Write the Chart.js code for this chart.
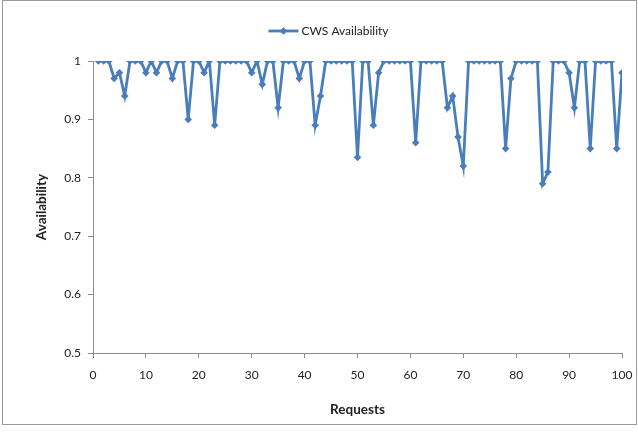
<!DOCTYPE html>
<html>
<head>
<meta charset="utf-8">
<script src="https://cdn.jsdelivr.net/npm/chart.js@4"></script>
<style>
  html, body { margin: 0; padding: 0; background: #ffffff; }
  #wrap { width: 638px; height: 432px; position: relative; }
</style>
</head>
<body>
<div id="wrap"><canvas id="chart" width="638" height="432"></canvas></div>
<script>
// Request number for each measurement
const requests = [
  1, 2, 3, 4, 5, 6, 7, 8, 9, 10,
  11, 12, 13, 14, 15, 16, 17, 18, 19, 20,
  21, 22, 23, 24, 25, 26, 27, 28, 29, 30,
  31, 32, 33, 34, 35, 36, 37, 38, 39, 40,
  41, 42, 43, 44, 45, 46, 47, 48, 49, 50,
  51, 52, 53, 54, 55, 56, 57, 58, 59, 60,
  61, 62, 63, 64, 65, 66, 67, 68, 69, 70,
  71, 72, 73, 74, 75, 76, 77, 78, 79, 80,
  81, 82, 83, 84, 85, 86, 87, 88, 89, 90,
  91, 92, 93, 94, 95, 96, 97, 98, 99, 100
];

// Measured CWS availability per request
const availability = [
  1, 1, 1, 0.97, 0.98, 0.94, 1, 1, 1, 0.98,
  1, 0.98, 1, 1, 0.97, 1, 1, 0.90, 1, 1,
  0.98, 1, 0.89, 1, 1, 1, 1, 1, 1, 0.98,
  1, 0.96, 1, 1, 0.92, 1, 1, 1, 0.97, 1,
  1, 0.89, 0.94, 1, 1, 1, 1, 1, 1, 0.835,
  1, 1, 0.89, 0.98, 1, 1, 1, 1, 1, 1,
  0.86, 1, 1, 1, 1, 1, 0.92, 0.94, 0.87, 0.82,
  1, 1, 1, 1, 1, 1, 1, 0.85, 0.97, 1,
  1, 1, 1, 1, 0.79, 0.81, 1, 1, 1, 0.98,
  0.92, 1, 1, 0.85, 1, 1, 1, 1, 0.85, 0.98
];

const seriesLabel = 'CWS Availability';
const xTicks = [0, 10, 20, 30, 40, 50, 60, 70, 80, 90, 100];
const yTicks = [0.5, 0.6, 0.7, 0.8, 0.9, 1];
const yTickLabels = ['0.5', '0.6', '0.7', '0.8', '0.9', '1'];

const lineColor = '#4a7ebb';
const axisColor = '#8c8c8c';
const textColor = '#222222';
const fontFamily = 'Lato, "Open Sans", "DejaVu Sans", sans-serif';

// Legend entry drawn as line + diamond, centred above the plot
const legendPlugin = {
  id: 'lineMarkerLegend',
  afterDraw(chart) {
    const ctx = chart.ctx;
    const ds = chart.data.datasets[0];
    ctx.save();
    ctx.font = '12px ' + fontFamily;
    const textW = ctx.measureText(ds.label).width;
    const lineW = 30;
    const total = lineW + 3 + textW;
    const cx = (chart.chartArea.left + chart.chartArea.right) / 2 - 29;
    const x0 = cx - total / 2;
    const y = 31;
    ctx.strokeStyle = lineColor;
    ctx.lineWidth = 2.8;
    ctx.beginPath();
    ctx.moveTo(x0, y);
    ctx.lineTo(x0 + lineW, y);
    ctx.stroke();
    ctx.fillStyle = lineColor;
    const mx = x0 + lineW / 2, r = 3.8;
    ctx.beginPath();
    ctx.moveTo(mx, y - r);
    ctx.lineTo(mx + r, y);
    ctx.lineTo(mx, y + r);
    ctx.lineTo(mx - r, y);
    ctx.closePath();
    ctx.fill();
    ctx.fillStyle = textColor;
    ctx.textBaseline = 'middle';
    ctx.textAlign = 'left';
    ctx.fillText(ds.label, x0 + lineW + 3, y);
    ctx.restore();
  }
};

// Outer frame around the whole chart
const framePlugin = {
  id: 'frame',
  beforeDraw(chart) {
    const ctx = chart.ctx;
    ctx.save();
    ctx.fillStyle = '#ffffff';
    ctx.fillRect(0, 0, chart.width, chart.height);
    ctx.strokeStyle = '#9a9a9a';
    ctx.lineWidth = 1;
    ctx.strokeRect(2.5, 0.5, chart.width - 4, chart.height - 8);
    ctx.restore();
  }
};

new Chart(document.getElementById('chart'), {
  type: 'scatter',
  data: {
    datasets: [{
      label: seriesLabel,
      data: requests.map((r, i) => ({ x: r, y: availability[i] })),
      showLine: true,
      borderColor: lineColor,
      backgroundColor: lineColor,
      borderWidth: 2.8,
      pointStyle: 'rectRot',
      pointRadius: 3.8,
      pointHoverRadius: 3.8,
      pointBorderWidth: 0,
      tension: 0
    }]
  },
  options: {
    responsive: false,
    animation: false,
    events: [],
    layout: { padding: { top: 61, right: 16, left: 34, bottom: 0 } },
    plugins: {
      legend: { display: false },
      tooltip: { enabled: false }
    },
    scales: {
      x: {
        type: 'linear',
        min: 0,
        max: 100,
        afterBuildTicks(scale) { scale.ticks = xTicks.map(v => ({ value: v })); },
        afterFit(scale) {
          scale.height = 79;
          scale.paddingLeft = 0;
          scale.paddingRight = 0;
        },
        grid: {
          display: true,
          drawOnChartArea: false,
          drawTicks: true,
          tickLength: 5,
          color: axisColor
        },
        border: { color: axisColor, width: 1 },
        ticks: {
          color: textColor,
          padding: 10,
          font: { family: fontFamily, size: 12 },
          maxRotation: 0
        },
        title: {
          display: true,
          text: 'Requests',
          color: textColor,
          font: { family: fontFamily, size: 13.5, weight: 'bold' },
          padding: { top: 0, bottom: 14 }
        }
      },
      y: {
        type: 'linear',
        min: 0.5,
        max: 1,
        afterBuildTicks(scale) { scale.ticks = yTicks.map(v => ({ value: v })); },
        afterFit(scale) {
          scale.width = 59;
          scale.paddingTop = 0;
          scale.paddingBottom = 0;
        },
        grid: {
          display: true,
          drawOnChartArea: false,
          drawTicks: true,
          tickLength: 5,
          color: axisColor
        },
        border: { color: axisColor, width: 1 },
        ticks: {
          color: textColor,
          padding: 7,
          font: { family: fontFamily, size: 12 },
          callback(value) {
            const i = yTicks.findIndex(t => Math.abs(t - value) < 1e-9);
            return i >= 0 ? yTickLabels[i] : '';
          }
        },
        title: {
          display: true,
          text: 'Availability',
          color: textColor,
          font: { family: fontFamily, size: 13.5, weight: 'bold' },
          padding: { top: 0, bottom: 0 }
        }
      }
    }
  },
  plugins: [framePlugin, legendPlugin]
});
</script>
</body>
</html>
